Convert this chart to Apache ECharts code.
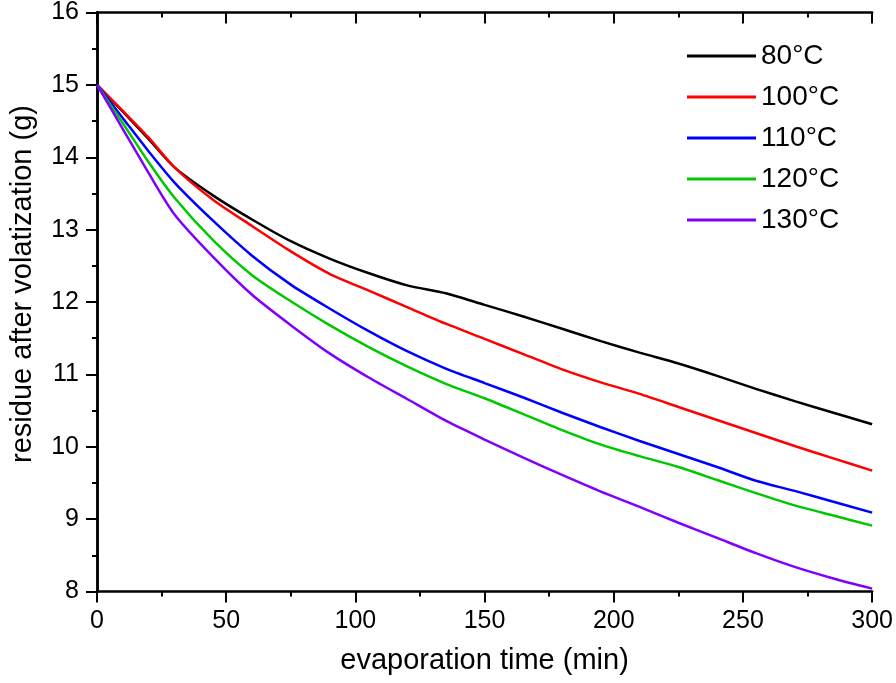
<!DOCTYPE html>
<html>
<head>
<meta charset="utf-8">
<title>residue after volatization</title>
<script src="https://cdn.jsdelivr.net/npm/echarts@6/dist/echarts.min.js"></script>
<style>
  html, body { margin: 0; padding: 0; background: #fff; }
  #chart { width: 896px; height: 683px; }
</style>
</head>
<body>
<div id="chart"></div>
<script>
// evaporation time (min)
const times = [0, 10, 20, 30, 45, 60, 75, 90, 105, 120, 135, 150, 165, 180, 195, 210, 225, 240, 255, 270, 285, 300]

// residue (g)
const t80 = [15, 14.63, 14.25, 13.86, 13.47, 13.14, 12.84, 12.60, 12.40, 12.23, 12.12, 11.96, 11.80, 11.63, 11.46, 11.30, 11.15, 10.98, 10.80, 10.63, 10.47, 10.31]
const t100 = [15, 14.64, 14.27, 13.86, 13.41, 13.05, 12.70, 12.39, 12.16, 11.93, 11.70, 11.49, 11.28, 11.07, 10.89, 10.73, 10.55, 10.37, 10.19, 10.01, 9.84, 9.67]
const t110 = [15, 14.54, 14.08, 13.65, 13.12, 12.64, 12.24, 11.91, 11.60, 11.32, 11.08, 10.88, 10.68, 10.47, 10.27, 10.08, 9.90, 9.72, 9.53, 9.39, 9.24, 9.09]
const t120 = [15, 14.47, 13.93, 13.44, 12.85, 12.37, 12.01, 11.68, 11.38, 11.11, 10.87, 10.67, 10.45, 10.23, 10.03, 9.87, 9.72, 9.54, 9.36, 9.19, 9.05, 8.91]
const t130 = [15, 14.39, 13.78, 13.21, 12.62, 12.10, 11.68, 11.29, 10.96, 10.66, 10.36, 10.10, 9.85, 9.61, 9.38, 9.17, 8.95, 8.74, 8.53, 8.34, 8.18, 8.04]

const seriesNames = ['80°C', '100°C', '110°C', '120°C', '130°C']
const seriesColors = ['#000000', '#ff0000', '#0000ff', '#00c800', '#8000ff']
const seriesValues = [t80, t100, t110, t120, t130]

const FONT = 'Liberation Sans, Arial, sans-serif'

const myChart = echarts.init(document.getElementById('chart'))

const axisLine = { show: true, lineStyle: { color: '#000', width: 2.5 } }
const tickStyle = { color: '#000', width: 2 }

const option = {
  backgroundColor: '#fff',
  animation: false,
  grid: {
    left: 96,
    right: 21,
    top: 11.5,
    bottom: 91.5
  },
  legend: {
    orient: 'vertical',
    left: 682,
    top: 37,
    icon: 'rect',
    itemWidth: 69,
    itemHeight: 3,
    itemGap: 13,
    data: seriesNames,
    textStyle: {
      fontFamily: FONT,
      fontSize: 28,
      lineHeight: 28,
      color: '#000'
    }
  },
  xAxis: [
    {
      type: 'value',
      min: 0,
      max: 300,
      interval: 50,
      name: 'evaporation time (min)',
      nameLocation: 'middle',
      nameGap: 55,
      nameTextStyle: { fontFamily: FONT, fontSize: 29, color: '#000' },
      axisLine: axisLine,
      axisTick: { show: true, length: 11, lineStyle: tickStyle },
      minorTick: { show: true, splitNumber: 2, length: 5, lineStyle: tickStyle },
      axisLabel: { fontFamily: FONT, fontSize: 25, color: '#000', margin: 17 },
      splitLine: { show: false }
    },
    {
      type: 'value',
      position: 'top',
      min: 0,
      max: 300,
      interval: 50,
      axisLine: axisLine,
      axisTick: { show: true, inside: true, length: 11, lineStyle: tickStyle },
      minorTick: { show: true, splitNumber: 2, length: 5, lineStyle: tickStyle },
      axisLabel: { show: false },
      splitLine: { show: false }
    }
  ],
  yAxis: [
    {
      type: 'value',
      min: 8,
      max: 16,
      interval: 1,
      name: 'residue after volatization (g)',
      nameLocation: 'middle',
      nameGap: 60,
      nameTextStyle: { fontFamily: FONT, fontSize: 29, color: '#000', padding: [0, 0, 0, 36] },
      axisLine: axisLine,
      axisTick: { show: true, length: 11, lineStyle: tickStyle },
      minorTick: { show: true, splitNumber: 2, length: 5, lineStyle: tickStyle },
      axisLabel: { fontFamily: FONT, fontSize: 25, color: '#000', margin: 18 },
      splitLine: { show: false }
    },
    {
      type: 'value',
      position: 'right',
      min: 8,
      max: 16,
      interval: 1,
      axisLine: axisLine,
      axisTick: { show: true, inside: true, length: 11, lineStyle: tickStyle },
      minorTick: { show: true, splitNumber: 2, length: 4, lineStyle: tickStyle },
      axisLabel: { show: false },
      splitLine: { show: false }
    }
  ],
  series: seriesNames.map((name, i) => ({
    name: name,
    type: 'line',
    xAxisIndex: 0,
    yAxisIndex: 0,
    symbol: 'none',
    smooth: 0.25,
    lineStyle: { color: seriesColors[i], width: 2.5 },
    itemStyle: { color: seriesColors[i] },
    data: times.map((t, k) => [t, seriesValues[i][k]])
  }))
}

myChart.setOption(option)
</script>
</body>
</html>
